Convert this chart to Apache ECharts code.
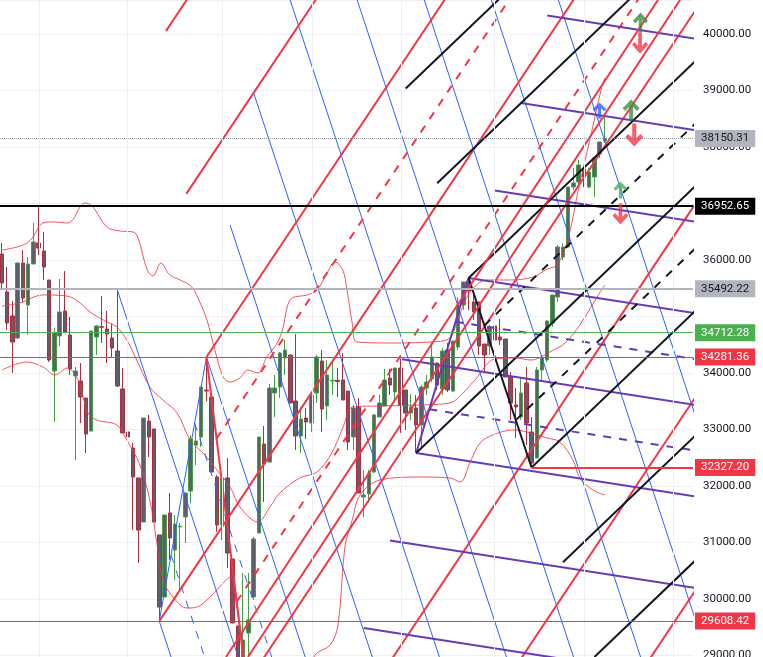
<!DOCTYPE html>
<html>
<head>
<meta charset="utf-8">
<script src="https://cdn.jsdelivr.net/npm/echarts@6/dist/echarts.min.js"></script>
<style>
html, body { margin: 0; padding: 0; background: #fff; }
#chart { width: 763px; height: 657px; }
</style>
</head>
<body>
<div id="chart"></div>
<script>
// candles, one per bar (index 0..115)
var opens = [36106,35434,35009,34619,35947,35204,35929,36301,36159,35646,34035,34655,35097,34673,33947,33858,33557,32972,34637,34820,
  34779,34619,34389,33717,32956,32672,32142,31362,33150,33009,31133,30035,31521,30867,31274,31451,31911,32726,32867,33699,
  33575,32159,31310,32142,30708,29522,28950,29398,30035,31168,32743,32425,33646,33752,34266,34319,33504,32885,33203,33115,
  33646,34212,33416,33858,33870,33876,33681,32867,33398,31805,31858,32248,33221,33416,33911,33664,34088,33699,33292,33380,
  33080,33735,33894,34177,33717,34407,33681,34460,35204,35628,35257,35257,34513,34478,34832,34637,34602,33929,33434,33221,
  33823,32956,32495,34053,34230,34885,35345,36053,36230,37292,37381,37611,37292,37469,37876,38106];
var highs = [36301,35876,35274,35965,36177,36053,36655,36938,36496,35646,34797,35663,35805,34991,34106,34177,33557,34743,34850,35363,
  35097,34867,35469,34088,34088,32761,32142,33203,33257,33009,31133,31487,31876,31487,31345,31876,32902,33080,33752,34283,
  33600,32195,32142,32495,30708,29522,30460,30460,31097,32867,33062,33806,33965,34372,34584,34319,34690,33398,33380,33611,
  34319,34407,34230,34212,34088,34354,33681,33434,33557,32283,32283,33274,33611,34071,34071,34088,34248,33699,33628,33611,
  33788,33965,34549,34177,34442,34531,34566,35345,35611,35681,35434,35257,34513,34850,34832,34956,34602,34018,33735,33929,
  34106,33221,34106,34319,34938,35381,36266,36301,37292,37628,37770,37628,37628,37805,38089,38567];
var lows = [35469,34761,34000,34602,35257,34673,35929,36088,35646,34195,33133,34478,34708,33965,32460,33115,32584,32972,34319,34531,
  34177,34283,33752,32938,32867,31221,30637,31362,32513,31362,29608,30035,30690,30336,30124,30991,31699,32371,32690,33500,
  32248,31186,31044,30548,29575,28700,28510,28973,29982,31168,31717,32407,33221,33557,33965,33469,32637,32584,32832,32956,
  33469,32956,33168,33611,33575,33522,32637,32637,31876,31451,31699,32230,33221,33416,33611,33522,32938,32991,33168,32584,
  32690,33611,33841,33699,33611,33664,33664,34407,35115,35115,34938,34319,34018,34319,34283,34496,33929,33168,32849,33168,
  32726,32327,32495,33841,34195,34814,35257,36000,36212,37239,37328,37292,37274,37115,37805,38071];
var closes = [35593,34885,34549,35947,35327,35929,36319,36212,35876,34230,34708,35080,34726,34071,34035,33575,32920,34743,34832,34810,
  34690,34442,33770,32938,32867,32159,31221,33203,32867,31362,29858,31487,31080,31327,31290,31876,32832,32796,33752,33681,
  32248,31310,32142,30814,29575,28950,29274,29628,31062,32867,32389,33735,33735,34354,34407,33469,32885,33186,33133,33611,
  34283,33363,33965,33870,33850,33522,32779,33380,31876,31841,32230,33257,33469,33876,33788,34088,33434,33292,33398,33080,
  33752,33841,34283,33788,34389,33699,34566,35204,35611,35451,35080,34478,34319,34814,34584,34584,33929,33469,33398,33646,
  33115,32407,34053,34266,34920,35381,36230,36230,37292,37363,37682,37469,37558,37805,38089,38150.31];

// Bollinger bands: [bar index, price]
var bbUpper = [[0,36177],[2.9,36230],[4.8,36301],[5.9,36407],[7.8,36655],[9.7,36673],[12.6,36655],[15.8,37009],[17.2,36956],[20,36584],
  [22.5,36513],[25,36496],[25.9,36407],[27.7,35823],[28.8,35717],[30.3,35947],[32,35735],[34,35646],[36.2,35522],[37.8,35239],
  [39.1,34938],[40.6,34407],[42.2,33929],[43.5,33840],[45.4,33911],[46.9,34053],[48.8,34000],[50.5,34283],[52.5,34531],[53.6,34800],
  [54.4,35168],[55.3,35327],[58.2,35381],[60.1,35469],[62,35770],[63.5,35965],[65,35823],[65.8,35469],[66.8,34885],[67.7,34549],
  [74,34531],[81.6,34549],[85.4,34619],[87,34973],[89.3,35434],[92.5,35646],[96.9,35646],[101.3,35699],[104,35841],[105.9,35912],
  [108,36389],[110,37274],[112.2,38159],[114.4,39062],[115,39221]];
var bbMiddle = [[0,35186],[3.4,35239],[7.8,35381],[12.4,35363],[14.9,35239],[16.8,35080],[19.3,34938],[21.9,34814],[23.8,34584],[25.7,34230],
  [28.2,33752],[30.7,33522],[33.4,33292],[35.9,32814],[38.7,32548],[41,32283],[43.5,31982],[45.4,31628],[48.8,31362],[51.1,31628],
  [53,31876],[56.8,32142],[60.1,32248],[62.9,32584],[65,33026],[66.9,33398],[72.1,33416],[79.7,33434],[85.4,33469],[87,33557],
  [90.2,33876],[94,34248],[97.8,34266],[100.9,34230],[104.5,34372],[107.4,34531],[110.2,34850],[113.5,35345],[115,35558]];
var bbLower = [[0,34053],[4.8,34195],[7.8,34106],[10.1,33965],[12.4,34088],[14.5,33876],[16.4,33292],[18.1,33168],[21.9,33080],[23.8,32814],
  [26.3,32371],[28.2,31752],[29.6,30956],[30.7,30336],[32.6,30035],[35.3,29840],[37.2,29858],[39.7,30035],[42.2,30283],[43.5,30389],
  [45,29717],[46.3,28832],[49.2,28212],[54,28000],[57.8,28566],[59.7,29009],[62.6,29186],[64.1,29540],[65.4,30920],[66.8,31398],
  [68.3,31841],[72.1,32106],[79.7,32159],[85.4,32142],[87.4,32071],[89.3,32425],[91.2,32761],[93.6,32903],[97.5,32991],[100.1,32956],
  [104,32849],[106.4,32779],[108.9,32460],[110.2,32142],[112.7,31929],[115,31841]];

// pitchfork pivots [bar index, price]: P1, P2, P3
var redFork = [[30,29608],[39,34283],[46.7,28510]];
var blueFork = [[22,35469],[30,29608],[39,34283]];
var blackFork = [[79,32584],[89,35681],[101,32327.2]];
var purpleFork = [[76,34248],[89,35681],[79,32584]];
var forkLevels = [0.5,-0.5,1,2,3,4,5,6,7,8,-1,-2,-3,-4,-5,-6,-7,-8];

// two loose red trend lines
var redTrend = [[[42.72,28973],[125.12,40602]], [[46.92,28973],[129.32,40602]]];

// horizontal price lines
var hPrices = [38150.31, 36952.65, 35492.22, 34712.28, 34281.36, 32327.20, 29608.42];
var hFrom = [null, null, null, null, null, 101, null];

// arrow marks [bar index, price, direction]
var arrows = [[121.78,40204,'up'],[121.7,39841,'down'],[113.96,38646,'up'],[120,38655,'up'],
  [120.6,38212,'down'],[117.97,37239,'up'],[117.97,36814,'down']];

// vertical grid positions (bar index)
var vGrid = [7.06, 23.84, 41.96, 59.13, 76.1, 93.84, 111, 128];

var X_MIN = -0.38, X_MAX = 131.8, Y_MIN = 28973, Y_MAX = 40602;

var hStyle = [
  { color: '#9598a1', width: 1, type: 'dotted', bg: '#b2b5be', text: '#131722' },
  { color: '#000000', width: 2, type: 'solid', bg: '#000000', text: '#ffffff' },
  { color: '#b2b5be', width: 2, type: 'solid', bg: '#b2b5be', text: '#131722' },
  { color: '#4caf50', width: 1, type: 'solid', bg: '#4caf50', text: '#ffffff' },
  { color: '#f23645', width: 1, type: 'solid', bg: '#f23645', text: '#ffffff' },
  { color: '#f23645', width: 2, type: 'solid', bg: '#f23645', text: '#ffffff' },
  { color: '#f23645', width: 1, type: 'solid', bg: '#f23645', text: '#ffffff' }
];
var arrowStyle = [
  { color: '#388e3c', size: [15, 20] },
  { color: '#f23645', size: [16, 21] },
  { color: '#2962ff', size: [14, 16] },
  { color: '#388e3c', size: [17, 21] },
  { color: '#f23645', size: [18, 23] },
  { color: '#4caf50', size: [14, 17] },
  { color: '#f23645', size: [16, 21] }
];
var ARROW = 'path://M10,0 L20,10 L16.8,13.2 L12.3,8.7 L12.3,24 L7.7,24 L7.7,8.7 L3.2,13.2 L0,10 Z';

var series = [];

function addSeg(a, b, color, width, type) {
  series.push({
    type: 'line', data: [a, b], symbol: 'none', silent: true, clip: true, z: 4,
    animation: false,
    lineStyle: { color: color, width: width, type: type }
  });
}

function pitchfork(p, color, width) {
  var m = [(p[1][0] + p[2][0]) / 2, (p[1][1] + p[2][1]) / 2];
  var d = [m[0] - p[0][0], m[1] - p[0][1]];
  var far = 30;
  addSeg(p[0], [p[0][0] + d[0] * far, p[0][1] + d[1] * far], color, width, 'solid');
  addSeg(p[1], p[2], color, width, 'solid');
  forkLevels.forEach(function (t) {
    var s = [m[0] + t * (p[1][0] - m[0]), m[1] + t * (p[1][1] - m[1])];
    addSeg(s, [s[0] + d[0] * far, s[1] + d[1] * far], color, width,
      Math.abs(t) === 0.5 ? [8, 8] : 'solid');
  });
}

// vertical grid lines
series.push({
  type: 'line', data: [], z: 0, silent: true,
  markLine: {
    silent: true, symbol: 'none', animation: false, label: { show: false },
    lineStyle: { color: '#eef0f5', width: 1, type: 'solid' },
    data: vGrid.map(function (v) { return { xAxis: v }; })
  }
});

series.push({
  type: 'candlestick', z: 2, animation: false,
  data: opens.map(function (o, i) { return [i, o, closes[i], lows[i], highs[i]]; }),
  encode: { x: 0, y: [1, 2, 3, 4] },
  barWidth: 4,
  itemStyle: {
    color: '#5d606b', color0: '#5d606b',
    borderColor: '#43a047', borderColor0: '#b8283a', borderWidth: 1
  }
});

[bbUpper, bbMiddle, bbLower].forEach(function (band) {
  series.push({
    type: 'line', data: band, symbol: 'none', smooth: 0.35, silent: true, clip: true, z: 3,
    animation: false,
    lineStyle: { color: '#f23645', width: 1, opacity: 0.85 }
  });
});

pitchfork(blueFork, '#2962ff', 1);
pitchfork(redFork, '#f23645', 2);
pitchfork(purpleFork, '#673ab7', 2);
pitchfork(blackFork, '#131722', 2);
redTrend.forEach(function (l) { addSeg(l[0], l[1], '#f23645', 2, 'solid'); });

// horizontal price lines with tags on the scale
series.push({
  type: 'line', data: [], z: 5,
  markLine: {
    silent: true, symbol: 'none', animation: false,
    data: hPrices.map(function (v, i) {
      var st = hStyle[i];
      var lbl = {
        show: true, position: 'end', distance: 2, formatter: v.toFixed(2),
        backgroundColor: st.bg, color: st.text, padding: [3, 6, 2, 6],
        fontSize: 11.5, fontFamily: 'Roboto'
      };
      var ls = { color: st.color, width: st.width, type: st.type };
      if (hFrom[i] !== null) {
        return [{ coord: [hFrom[i], v], lineStyle: ls, label: lbl }, { coord: [X_MAX, v] }];
      }
      return { yAxis: v, lineStyle: ls, label: lbl };
    })
  }
});

series.push({
  type: 'scatter', z: 6, silent: true, animation: false,
  data: arrows.map(function (a, i) {
    return {
      value: [a[0], a[1]],
      symbol: ARROW,
      symbolSize: arrowStyle[i].size,
      symbolRotate: a[2] === 'down' ? 180 : 0,
      itemStyle: { color: arrowStyle[i].color }
    };
  })
});

var chart = echarts.init(document.getElementById('chart'), null, { renderer: 'canvas' });
chart.setOption({
  animation: false,
  backgroundColor: '#ffffff',
  grid: { left: 0, right: 70, top: 0, bottom: 0, containLabel: false, outerBoundsMode: 'none' },
  xAxis: {
    type: 'value', min: X_MIN, max: X_MAX,
    axisLine: { show: false }, axisTick: { show: false },
    axisLabel: { show: false }, splitLine: { show: false }
  },
  yAxis: {
    type: 'value', position: 'right', min: Y_MIN, max: Y_MAX, splitNumber: 12,
    axisLine: { show: false }, axisTick: { show: false },
    splitLine: { lineStyle: { color: '#eef0f5' } },
    axisLabel: {
      color: '#131722', fontSize: 11.5, fontFamily: 'Roboto', margin: 10,
      showMinLabel: false, showMaxLabel: false,
      formatter: function (v) {
        if (v === 35000 || v === 37000) return '';
        return v.toFixed(2);
      }
    }
  },
  series: series
});
</script>
</body>
</html>
